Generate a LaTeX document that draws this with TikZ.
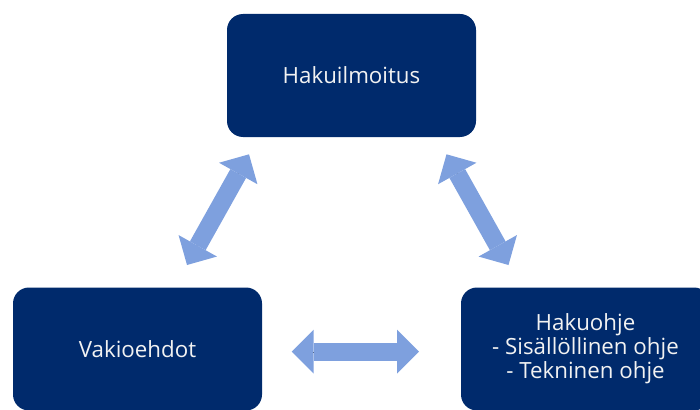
\documentclass[tikz,border=0pt]{standalone}
\usepackage{fontspec}
\setmainfont{Open Sans}
\usetikzlibrary{arrows.meta}
\definecolor{boxnavy}{HTML}{002A6C}
\definecolor{linkblue}{HTML}{7EA0DE}
\begin{document}
\begin{tikzpicture}[x=1pt,y=-1pt,
  card/.style={fill=boxnavy, rounded corners=16pt, minimum width=249pt,
    minimum height=123pt, inner sep=0pt, text=white!95!black, align=center,
    font=\fontsize{22.3}{24}\selectfont},
  link/.style={linkblue, line width=18pt,
    preaction={draw, -, shorten <=19pt, shorten >=19pt},
    {Triangle[length=22pt,width=44pt,line width=0pt]}-{Triangle[length=22pt,width=44pt,line width=0pt]}}]
\useasboundingbox (0,0) rectangle (700,409);
\begin{scope}
  \clip (0,0) rectangle (700,409);
  \node[card] (ilmoitus) at (351.5,75.5) {Hakuilmoitus};
  \node[card] (ehdot) at (137.5,349) {Vakioehdot};
  \node[card] (ohje) at (585.5,349) {Hakuohje\\- Sisällöllinen ohje\\- Tekninen ohje};
\end{scope}
% end points of the three two-way links
\coordinate (l1) at (187,265);
\coordinate (l2) at (249,154.3);
\coordinate (r1) at (446.5,154.3);
\coordinate (r2) at (508.5,265);
\coordinate (h1) at (291.7,351.7);
\coordinate (h2) at (419,351.7);
\draw[link] (l1) -- (l2);
\draw[link] (r1) -- (r2);
\draw[link] (h1) -- (h2);
\end{tikzpicture}
\end{document}
